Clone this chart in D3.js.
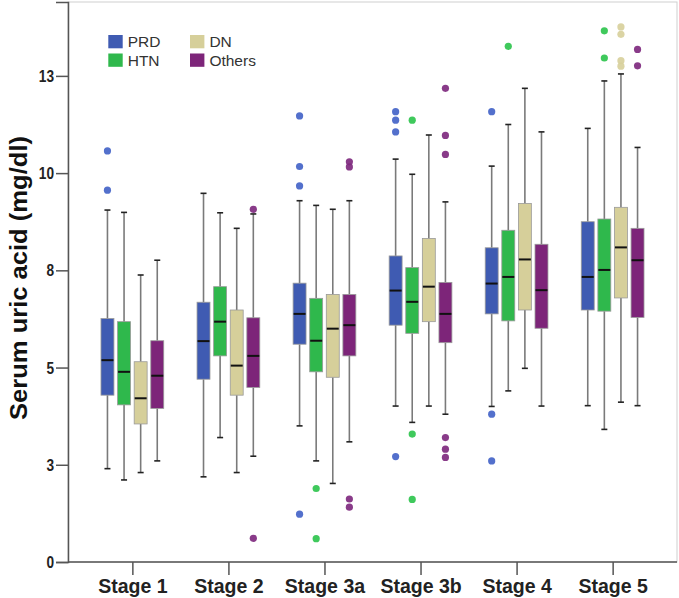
<!DOCTYPE html>
<html>
<head>
<meta charset="utf-8">
<script src="https://cdn.jsdelivr.net/npm/d3@7"></script>
<style>
  html, body { margin: 0; padding: 0; background: #fff; }
  svg { display: block; font-family: "Liberation Sans", Arial, sans-serif; }
</style>
</head>
<body>
<svg id="chart" width="679" height="598"></svg>
<script>
// ---------- data ----------
const stages = ["Stage 1", "Stage 2", "Stage 3a", "Stage 3b", "Stage 4", "Stage 5"];
const seriesNames = ["PRD", "HTN", "DN", "Others"];

// [lower whisker, Q1, median, Q3, upper whisker] per stage
const prdStats = [
  [2.40, 4.29, 5.19, 6.26, 9.05],
  [2.19, 4.70, 5.68, 6.68, 9.48],
  [3.50, 5.60, 6.38, 7.17, 9.29],
  [4.01, 6.09, 6.98, 7.87, 10.36],
  [4.00, 6.38, 7.16, 8.08, 10.18],
  [4.02, 6.48, 7.33, 8.75, 11.15]
];
const htnStats = [
  [2.11, 4.04, 4.89, 6.18, 8.99],
  [3.20, 5.30, 6.18, 7.08, 8.98],
  [2.60, 4.89, 5.69, 6.78, 9.17],
  [3.59, 5.88, 6.69, 7.57, 9.97],
  [4.40, 6.20, 7.33, 8.53, 11.25],
  [3.41, 6.45, 7.51, 8.82, 12.37]
];
const dnStats = [
  [2.30, 3.55, 4.21, 5.15, 7.38],
  [2.30, 4.29, 5.05, 6.48, 8.58],
  [2.02, 4.75, 6.00, 6.88, 9.07],
  [4.01, 6.18, 7.08, 8.32, 10.98],
  [4.98, 6.48, 7.78, 9.22, 12.18],
  [4.11, 6.79, 8.09, 9.12, 12.55]
];
const othersStats = [
  [2.60, 3.95, 4.79, 5.69, 7.76],
  [2.72, 4.49, 5.30, 6.28, 8.95],
  [3.09, 5.30, 6.09, 6.88, 9.29],
  [3.80, 5.64, 6.38, 7.19, 9.26],
  [4.01, 6.01, 6.99, 8.17, 11.06],
  [4.02, 6.29, 7.76, 8.58, 10.66]
];

// outliers per stage
const prdOutliers = [[10.57, 9.56], [], [11.47, 10.17, 9.67, 1.23], [11.58, 11.36, 11.06, 2.71], [11.58, 3.80, 2.60], []];
const htnOutliers = [[], [], [1.89, 0.60], [11.36, 3.29, 1.61], [13.26], [13.66, 12.96]];
const dnOutliers = [[], [], [], [], [], [13.76, 13.57, 12.89, 12.75]];
const othersOutliers = [[], [9.07, 0.61], [10.29, 10.16, 1.62, 1.41], [12.18, 10.97, 10.48, 3.20, 2.90, 2.69], [], [13.18, 12.76]];

const yTicks = [0, 2.5, 5, 7.5, 10, 12.5];
const yTickLabels = ["0", "3", "5", "8", "10", "13"];
const yTitle = "Serum uric acid (mg/dl)";

// ---------- styling ----------
const colors = { PRD: "#3f5bb2", HTN: "#2fb84c", DN: "#d6cf9a", Others: "#7d2579" };
const dotColors = { PRD: "#4464c8", HTN: "#2fc44e", DN: "#d8d09c", Others: "#7f2a7f" };

const statsBySeries = { PRD: prdStats, HTN: htnStats, DN: dnStats, Others: othersStats };
const outBySeries = { PRD: prdOutliers, HTN: htnOutliers, DN: dnOutliers, Others: othersOutliers };

const svg = d3.select("#chart");
const plot = { left: 68, right: 677, top: 2, bottom: 562 };

const x = d3.scalePoint().domain(stages).range([plot.left, plot.right]).padding(0.67);
const x1 = d3.scaleBand().domain(seriesNames).range([-33.2, 33.2]).paddingInner(0.22).paddingOuter(0.11);
const y = d3.scaleLinear().domain([0, 14.4]).range([plot.bottom, plot.top]);

// frame
svg.append("rect")
  .attr("x", plot.left).attr("y", plot.top)
  .attr("width", plot.right - plot.left).attr("height", plot.bottom - plot.top)
  .attr("fill", "none").attr("stroke", "#cfcfcf").attr("stroke-width", 1);

// build records
const boxes = [];
const dots = [];
seriesNames.forEach(s => {
  stages.forEach((st, i) => {
    const [lo, q1, med, q3, hi] = statsBySeries[s][i];
    boxes.push({ s, st, lo, q1, med, q3, hi });
    outBySeries[s][i].forEach(v => dots.push({ s, st, v }));
  });
});

const bw = x1.bandwidth();
const cx = d => x(d.st) + x1(d.s) + bw / 2;

const g = svg.append("g");

// whiskers
g.selectAll(".wl").data(boxes).join("line")
  .attr("x1", cx).attr("x2", cx)
  .attr("y1", d => y(d.hi)).attr("y2", d => y(d.q3))
  .attr("stroke", "#7a7a7a").attr("stroke-width", 1.6);
g.selectAll(".wl2").data(boxes).join("line")
  .attr("x1", cx).attr("x2", cx)
  .attr("y1", d => y(d.q1)).attr("y2", d => y(d.lo))
  .attr("stroke", "#7a7a7a").attr("stroke-width", 1.6);
// caps
[["hi"], ["lo"]].forEach(([k]) => {
  g.selectAll(".cap-" + k).data(boxes).join("line")
    .attr("x1", d => cx(d) - 3).attr("x2", d => cx(d) + 3)
    .attr("y1", d => y(d[k])).attr("y2", d => y(d[k]))
    .attr("stroke", "#222").attr("stroke-width", 1.6);
});

// boxes
g.selectAll(".box").data(boxes).join("rect")
  .attr("x", d => x(d.st) + x1(d.s))
  .attr("width", bw)
  .attr("y", d => y(d.q3))
  .attr("height", d => y(d.q1) - y(d.q3))
  .attr("fill", d => colors[d.s])
  .attr("stroke", "#9a9a9a").attr("stroke-width", 0.8);

// medians
g.selectAll(".med").data(boxes).join("line")
  .attr("x1", d => x(d.st) + x1(d.s) + 0.5)
  .attr("x2", d => x(d.st) + x1(d.s) + bw - 0.5)
  .attr("y1", d => y(d.med)).attr("y2", d => y(d.med))
  .attr("stroke", "#111").attr("stroke-width", 2);

// outliers
g.selectAll(".dot").data(dots).join("circle")
  .attr("cx", d => x(d.st) + x1(d.s) + bw / 2)
  .attr("cy", d => y(d.v))
  .attr("r", 3.6)
  .attr("fill", d => dotColors[d.s])
  .attr("fill-opacity", 0.92);

// y axis
const yAxis = d3.axisLeft(y).tickValues(yTicks)
  .tickFormat((d, i) => yTickLabels[i]).tickSize(12).tickPadding(2);
const ya = svg.append("g").attr("transform", `translate(${plot.left},0)`).call(yAxis);
ya.select(".domain").attr("stroke", "#555").attr("stroke-width", 1.5);
ya.selectAll(".tick line").attr("stroke", "#555").attr("stroke-width", 1.5);
ya.selectAll(".tick text")
  .attr("fill", "#222")
  .style("font-size", "17px").style("font-weight", "bold")
  .attr("textLength", (d, i) => yTickLabels[i].length * 7.6)
  .attr("lengthAdjust", "spacingAndGlyphs");

// x axis
const xAxis = d3.axisBottom(x).tickSize(13).tickPadding(4);
const xa = svg.append("g").attr("transform", `translate(0,${plot.bottom})`).call(xAxis);
xa.select(".domain").attr("stroke", "#555").attr("stroke-width", 1.5)
  .attr("d", `M${plot.left},0H${plot.right}`);
xa.selectAll(".tick line").attr("stroke", "#555").attr("stroke-width", 1.5);
xa.selectAll(".tick text")
  .attr("fill", "#222")
  .style("font-size", "19.5px").style("font-weight", "bold");

// y title
svg.append("text")
  .attr("transform", `translate(27,278) rotate(-90)`)
  .attr("text-anchor", "middle")
  .attr("fill", "#111")
  .style("font-size", "23px").style("font-weight", "bold")
  .attr("textLength", 284).attr("lengthAdjust", "spacingAndGlyphs")
  .text(yTitle);

// legend
const legendPos = [
  { s: "PRD", x: 108.3, y: 35 },
  { s: "HTN", x: 108.3, y: 53.5 },
  { s: "DN", x: 190, y: 35 },
  { s: "Others", x: 190, y: 53.5 }
];
const lg = svg.append("g").selectAll("g").data(legendPos).join("g")
  .attr("transform", d => `translate(${d.x},${d.y})`);
lg.append("rect").attr("width", 14.4).attr("height", 13.3)
  .attr("fill", d => colors[d.s]);
lg.append("text").attr("x", 19.4).attr("y", 12)
  .attr("fill", "#333")
  .style("font-size", "15.5px")
  .text(d => d.s);
</script>
</body>
</html>
